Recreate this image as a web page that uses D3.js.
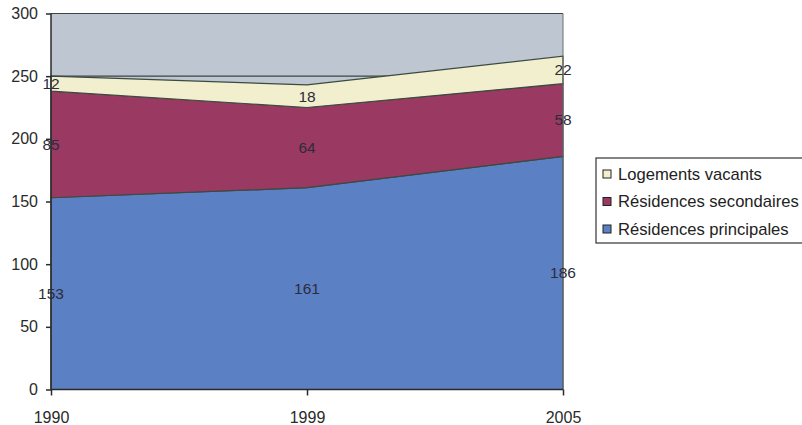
<!DOCTYPE html>
<html><head><meta charset="utf-8">
<script src="https://cdn.jsdelivr.net/npm/d3@7"></script>
<style>body{margin:0;background:#fff}svg{display:block}</style>
</head><body>
<svg id="c" width="802" height="425"></svg>
<script>
const years = ["1990", "1999", "2005"];
const principales = [153, 161, 186];
const secondaires = [85, 64, 58];
const vacants = [12, 18, 22];
const seriesNames = ["Résidences principales", "Résidences secondaires", "Logements vacants"];
const seriesColors = ["#5b80c3", "#9a3a63", "#f1efcd"];
const yTicks = [0, 50, 100, 150, 200, 250, 300];

const svg = d3.select("#c");
const L = 51, R = 563, T = 13.5, B = 389.5;
const x = d3.scalePoint().domain(years).range([L, R]);
const y = d3.scaleLinear().domain([0, 300]).range([B, T]);

const rows = years.map((yr, i) => ({year: yr, p: principales[i], s: secondaires[i], v: vacants[i]}));
const stack = d3.stack().keys(["p", "s", "v"])(rows);

svg.append("rect").attr("x", L).attr("y", T).attr("width", R - L).attr("height", B - T).attr("fill", "#bdc6d1");
svg.append("g").selectAll("line").data(yTicks.filter(d => d > 0)).join("line")
  .attr("x1", L).attr("x2", R).attr("y1", d => y(d)).attr("y2", d => y(d))
  .attr("stroke", "#3c4444").attr("stroke-width", 1.2);

const area = d3.area().x(d => x(d.data.year)).y0(d => y(d[0])).y1(d => y(d[1]));
svg.append("g").selectAll("path").data(stack).join("path")
  .attr("d", area).attr("fill", (d, i) => seriesColors[i])
  .attr("stroke", "#3c4a42").attr("stroke-width", 1.2);

svg.append("line").attr("x1", R).attr("x2", R).attr("y1", T).attr("y2", B).attr("stroke", "#6a6f72").attr("stroke-width", 1);

const yAxis = d3.axisLeft(y).tickValues(yTicks).tickSize(5).tickPadding(8);
const gy = svg.append("g").attr("transform", `translate(${L},0)`).call(yAxis);
const xAxis = d3.axisBottom(x).tickSize(6).tickPadding(16);
const gx = svg.append("g").attr("transform", `translate(0,${B})`).call(xAxis);
[gy, gx].forEach(g => {
  g.select(".domain").attr("stroke", "#2a2a2a").attr("stroke-width", 1.5);
  g.selectAll(".tick line").attr("stroke", "#2a2a2a").attr("stroke-width", 1.5);
  g.selectAll("text").attr("font-family", "Liberation Sans, Arial, sans-serif").attr("font-size", 16).attr("fill", "#2a2a2a");
});
gy.select(".domain").attr("d", `M0,${B}V${T}`);
gx.select(".domain").attr("d", `M${L},0H${R}`);

const lab = svg.append("g").attr("font-family", "Liberation Sans, Arial, sans-serif").attr("font-size", 15.5).attr("fill", "#2c2c3a").attr("text-anchor", "middle");
stack.forEach(s => {
  s.forEach(d => {
    lab.append("text").attr("x", x(d.data.year)).attr("y", y((d[0] + d[1]) / 2)).attr("dy", "0.35em")
      .text(d[1] - d[0]);
  });
});

const lg = svg.append("g");
lg.append("rect").attr("x", 596).attr("y", 158).attr("width", 210).attr("height", 85)
  .attr("fill", "#fff").attr("stroke", "#333").attr("stroke-width", 1.2);
const legendItems = [2, 1, 0];
legendItems.forEach((si, k) => {
  const cy = 174 + k * 27.5;
  lg.append("rect").attr("x", 603).attr("y", cy - 4).attr("width", 8).attr("height", 8)
    .attr("fill", seriesColors[si]).attr("stroke", "#222").attr("stroke-width", 1);
  lg.append("text").attr("x", 618).attr("y", cy).attr("dy", "0.35em")
    .attr("font-family", "Liberation Sans, Arial, sans-serif").attr("font-size", 16.6).attr("fill", "#222")
    .text(seriesNames[si]);
});
</script>
</body></html>
